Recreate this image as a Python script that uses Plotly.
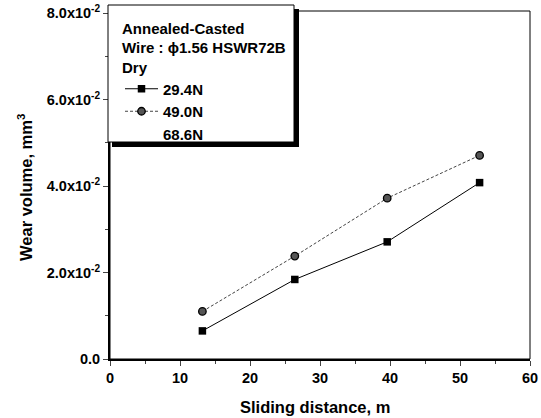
import plotly.graph_objects as go

distance = [13.2, 26.4, 39.6, 52.8]
wear_294 = [0.0065, 0.0184, 0.0271, 0.0408]
wear_490 = [0.0110, 0.0238, 0.0372, 0.0471]
wear_686 = [None]
series_names = ["29.4N", "49.0N", "68.6N"]
y_tickvals = [0.0, 0.02, 0.04, 0.06, 0.08]
y_ticktext = ["0.0", "2.0x10<sup>-2</sup>", "4.0x10<sup>-2</sup>", "6.0x10<sup>-2</sup>", "8.0x10<sup>-2</sup>"]
x_tickvals = [0, 10, 20, 30, 40, 50, 60]

FONT = "Liberation Sans, Arial, sans-serif"

fig = go.Figure()
fig.add_trace(go.Scatter(
    x=distance, y=wear_294, name=series_names[0], mode="lines+markers",
    line=dict(color="black", width=1),
    marker=dict(symbol="square", size=7.5, color="black"),
))
fig.add_trace(go.Scatter(
    x=distance, y=wear_490, name=series_names[1], mode="lines+markers",
    line=dict(color="#444444", width=1, dash="3px,2px"),
    marker=dict(symbol="circle", size=7.5, color="#555555", line=dict(color="black", width=1.3)),
))
fig.add_trace(go.Scatter(
    x=wear_686, y=wear_686, name=series_names[2], mode="lines",
    line=dict(color="rgba(0,0,0,0)", width=0),
))

L, R, T, B = 110, 11, 11, 59
W, H = 541, 418
pw, ph = W - L - R, H - T - B

def px_x(p):
    return (p - L) / pw

def px_y(p):
    return (H - B - p) / ph

# legend shadow + box
fig.add_shape(type="rect", xref="paper", yref="paper",
              x0=px_x(112), x1=px_x(299), y0=px_y(147), y1=px_y(9),
              fillcolor="black", line=dict(width=0), layer="above")
fig.add_shape(type="rect", xref="paper", yref="paper",
              x0=px_x(108), x1=px_x(294), y0=px_y(142), y1=px_y(5),
              fillcolor="white", line=dict(color="black", width=1), layer="above")
# thin frame
fig.add_shape(type="rect", xref="paper", yref="paper", x0=0, x1=1, y0=0, y1=1,
              line=dict(color="black", width=1), layer="below")

fig.add_annotation(text="Sliding distance, m", xref="paper", yref="paper",
                   x=px_x(315), y=px_y(407), xanchor="center", yanchor="middle",
                   showarrow=False, font=dict(family=FONT, size=16.5, weight="bold"))
fig.add_annotation(text="Wear volume, mm<sup>3</sup>", xref="paper", yref="paper",
                   x=px_x(25), y=px_y(188), xanchor="center", yanchor="middle", textangle=-90,
                   showarrow=False, font=dict(family=FONT, size=16.5, weight="bold"))

fig.update_layout(
    width=W, height=H,
    margin=dict(l=L, r=R, t=T, b=B),
    paper_bgcolor="white", plot_bgcolor="white",
    font=dict(family=FONT, size=14, color="black", weight="bold"),
    showlegend=True,
    legend=dict(
        x=px_x(120), y=px_y(14), xanchor="left", yanchor="top",
        bgcolor="rgba(0,0,0,0)", borderwidth=0,
        title=dict(text="Annealed-Casted<br>Wire : \u03d51.56 HSWR72B<br>Dry",
                   font=dict(family=FONT, size=15, weight="bold"), side="top"),
        font=dict(family=FONT, size=15, weight="bold"),
        tracegroupgap=0, itemwidth=33,
    ),
    xaxis=dict(
        range=[0, 60], tickvals=x_tickvals, ticks="outside", ticklen=5, tickwidth=1,
        showline=True, linewidth=2, linecolor="black", showgrid=False, zeroline=False,
        minor=dict(dtick=5, ticks="outside", ticklen=3, tickwidth=1, showgrid=False),
        tickfont=dict(family=FONT, size=14.5, weight="bold"), automargin=False,
    ),
    yaxis=dict(
        range=[0, 0.0805], tickvals=y_tickvals, ticktext=y_ticktext, ticks="outside",
        ticklen=5, tickwidth=1,
        showline=True, linewidth=2, linecolor="black", showgrid=False, zeroline=False,
        minor=dict(dtick=0.01, ticks="outside", ticklen=3, tickwidth=1, showgrid=False),
        tickfont=dict(family=FONT, size=14.5, weight="bold"), automargin=False,
    ),
)

fig.write_html("out.html", config={"displayModeBar": False},
               post_script="document.body.style.margin='0';document.body.style.padding='0';")
